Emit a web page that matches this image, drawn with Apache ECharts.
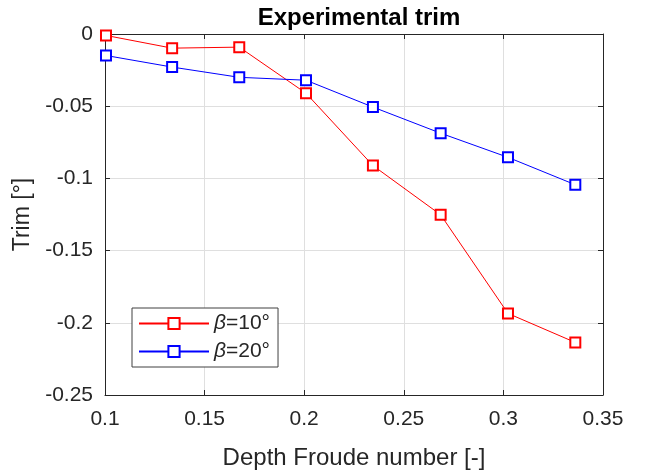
<!DOCTYPE html>
<html><head><meta charset="utf-8">
<script src="https://cdn.jsdelivr.net/npm/echarts@6/dist/echarts.min.js"></script>
<style>html,body{margin:0;padding:0;background:#fff}#c{width:646px;height:475px}</style>
</head><body><div id="c"></div>
<script>
const froude = [0.1005, 0.1337, 0.1674, 0.2009, 0.2345, 0.2685, 0.3023, 0.3361];
const trimBeta10 = [-0.001, -0.0098, -0.0091, -0.041, -0.0911, -0.1252, -0.1935, -0.2136];
const trimBeta20 = [-0.0149, -0.0229, -0.030, -0.032, -0.0506, -0.0687, -0.0854, -0.1044];
const seriesNames = ['β=10°', 'β=20°'];
const xTicks = [0.1, 0.15, 0.2, 0.25, 0.3, 0.35];
const yTicks = [0, -0.05, -0.1, -0.15, -0.2, -0.25];

const font = 'Liberation Sans, Arial, Helvetica, sans-serif';
const axisColor = '#262626';
const pair = (xs, ys) => xs.map((x, i) => [x, ys[i]]);

const chart = echarts.init(document.getElementById('c'), null, {renderer: 'canvas'});
const baseAxis = {
  axisLine: {show: true, onZero: false, lineStyle: {color: axisColor, width: 1}},
  axisTick: {show: true, inside: true, length: 5, lineStyle: {color: axisColor}},
  splitLine: {show: false}
};
chart.setOption({
  animation: false,
  backgroundColor: '#fff',
  title: {
    text: 'Experimental trim', left: 354, top: 1, textAlign: 'center',
    textStyle: {fontFamily: font, fontSize: 24, fontWeight: 'bold', color: '#000'}
  },
  grid: {left: 105, right: 43, top: 34, bottom: 77},
  legend: {
    orient: 'vertical', left: 132, top: 308,
    padding: [5, 8, 5, 6], itemGap: 7,
    itemWidth: 70, itemHeight: 14,
    borderColor: '#404040', borderWidth: 1, backgroundColor: '#fff',
    data: seriesNames,
    formatter: n => '{i|β}{t|' + n.slice(1) + '}',
    textStyle: {
      fontFamily: font, fontSize: 21, color: '#262626', lineHeight: 21,
      rich: {
        i: {fontFamily: font, fontStyle: 'italic', fontSize: 21, color: '#262626', lineHeight: 21},
        t: {fontFamily: font, fontSize: 21, color: '#262626', lineHeight: 21}
      }
    }
  },
  xAxis: [
    Object.assign({}, baseAxis, {
      type: 'value', min: 0.1, max: 0.35, interval: 0.05, position: 'bottom',
      name: 'Depth Froude number [-]', nameLocation: 'middle', nameGap: 51,
      nameTextStyle: {fontFamily: font, fontSize: 24, color: '#262626'},
      axisLabel: {fontFamily: font, fontSize: 21, color: '#262626', margin: 14,
        formatter: v => String(+v.toFixed(2))},
      splitLine: {show: true, lineStyle: {color: '#dfdfdf', width: 1}}
    }),
    Object.assign({}, baseAxis, {
      type: 'value', min: 0.1, max: 0.35, interval: 0.05, position: 'top',
      axisLabel: {show: false}
    })
  ],
  yAxis: [
    Object.assign({}, baseAxis, {
      type: 'value', min: -0.25, max: 0, interval: 0.05, position: 'left',
      name: 'Trim [°]', nameLocation: 'middle', nameGap: 71,
      nameTextStyle: {fontFamily: font, fontSize: 23, color: '#262626'},
      axisLabel: {fontFamily: font, fontSize: 21, color: '#262626', margin: 12,
        formatter: v => String(+v.toFixed(2))},
      splitLine: {show: true, lineStyle: {color: '#dfdfdf', width: 1}}
    }),
    Object.assign({}, baseAxis, {
      type: 'value', min: -0.25, max: 0, interval: 0.05, position: 'right',
      axisLabel: {show: false}
    })
  ],
  series: [
    {
      name: seriesNames[0], type: 'line', data: pair(froude, trimBeta10),
      symbol: 'emptyRect', symbolSize: 10, showAllSymbol: true,
      lineStyle: {color: '#ff0000', width: 1},
      itemStyle: {color: '#ff0000', borderColor: '#ff0000', borderWidth: 1}
    },
    {
      name: seriesNames[1], type: 'line', data: pair(froude, trimBeta20),
      symbol: 'emptyRect', symbolSize: 10, showAllSymbol: true,
      lineStyle: {color: '#0000ff', width: 1},
      itemStyle: {color: '#0000ff', borderColor: '#0000ff', borderWidth: 1}
    }
  ]
});
</script></body></html>
